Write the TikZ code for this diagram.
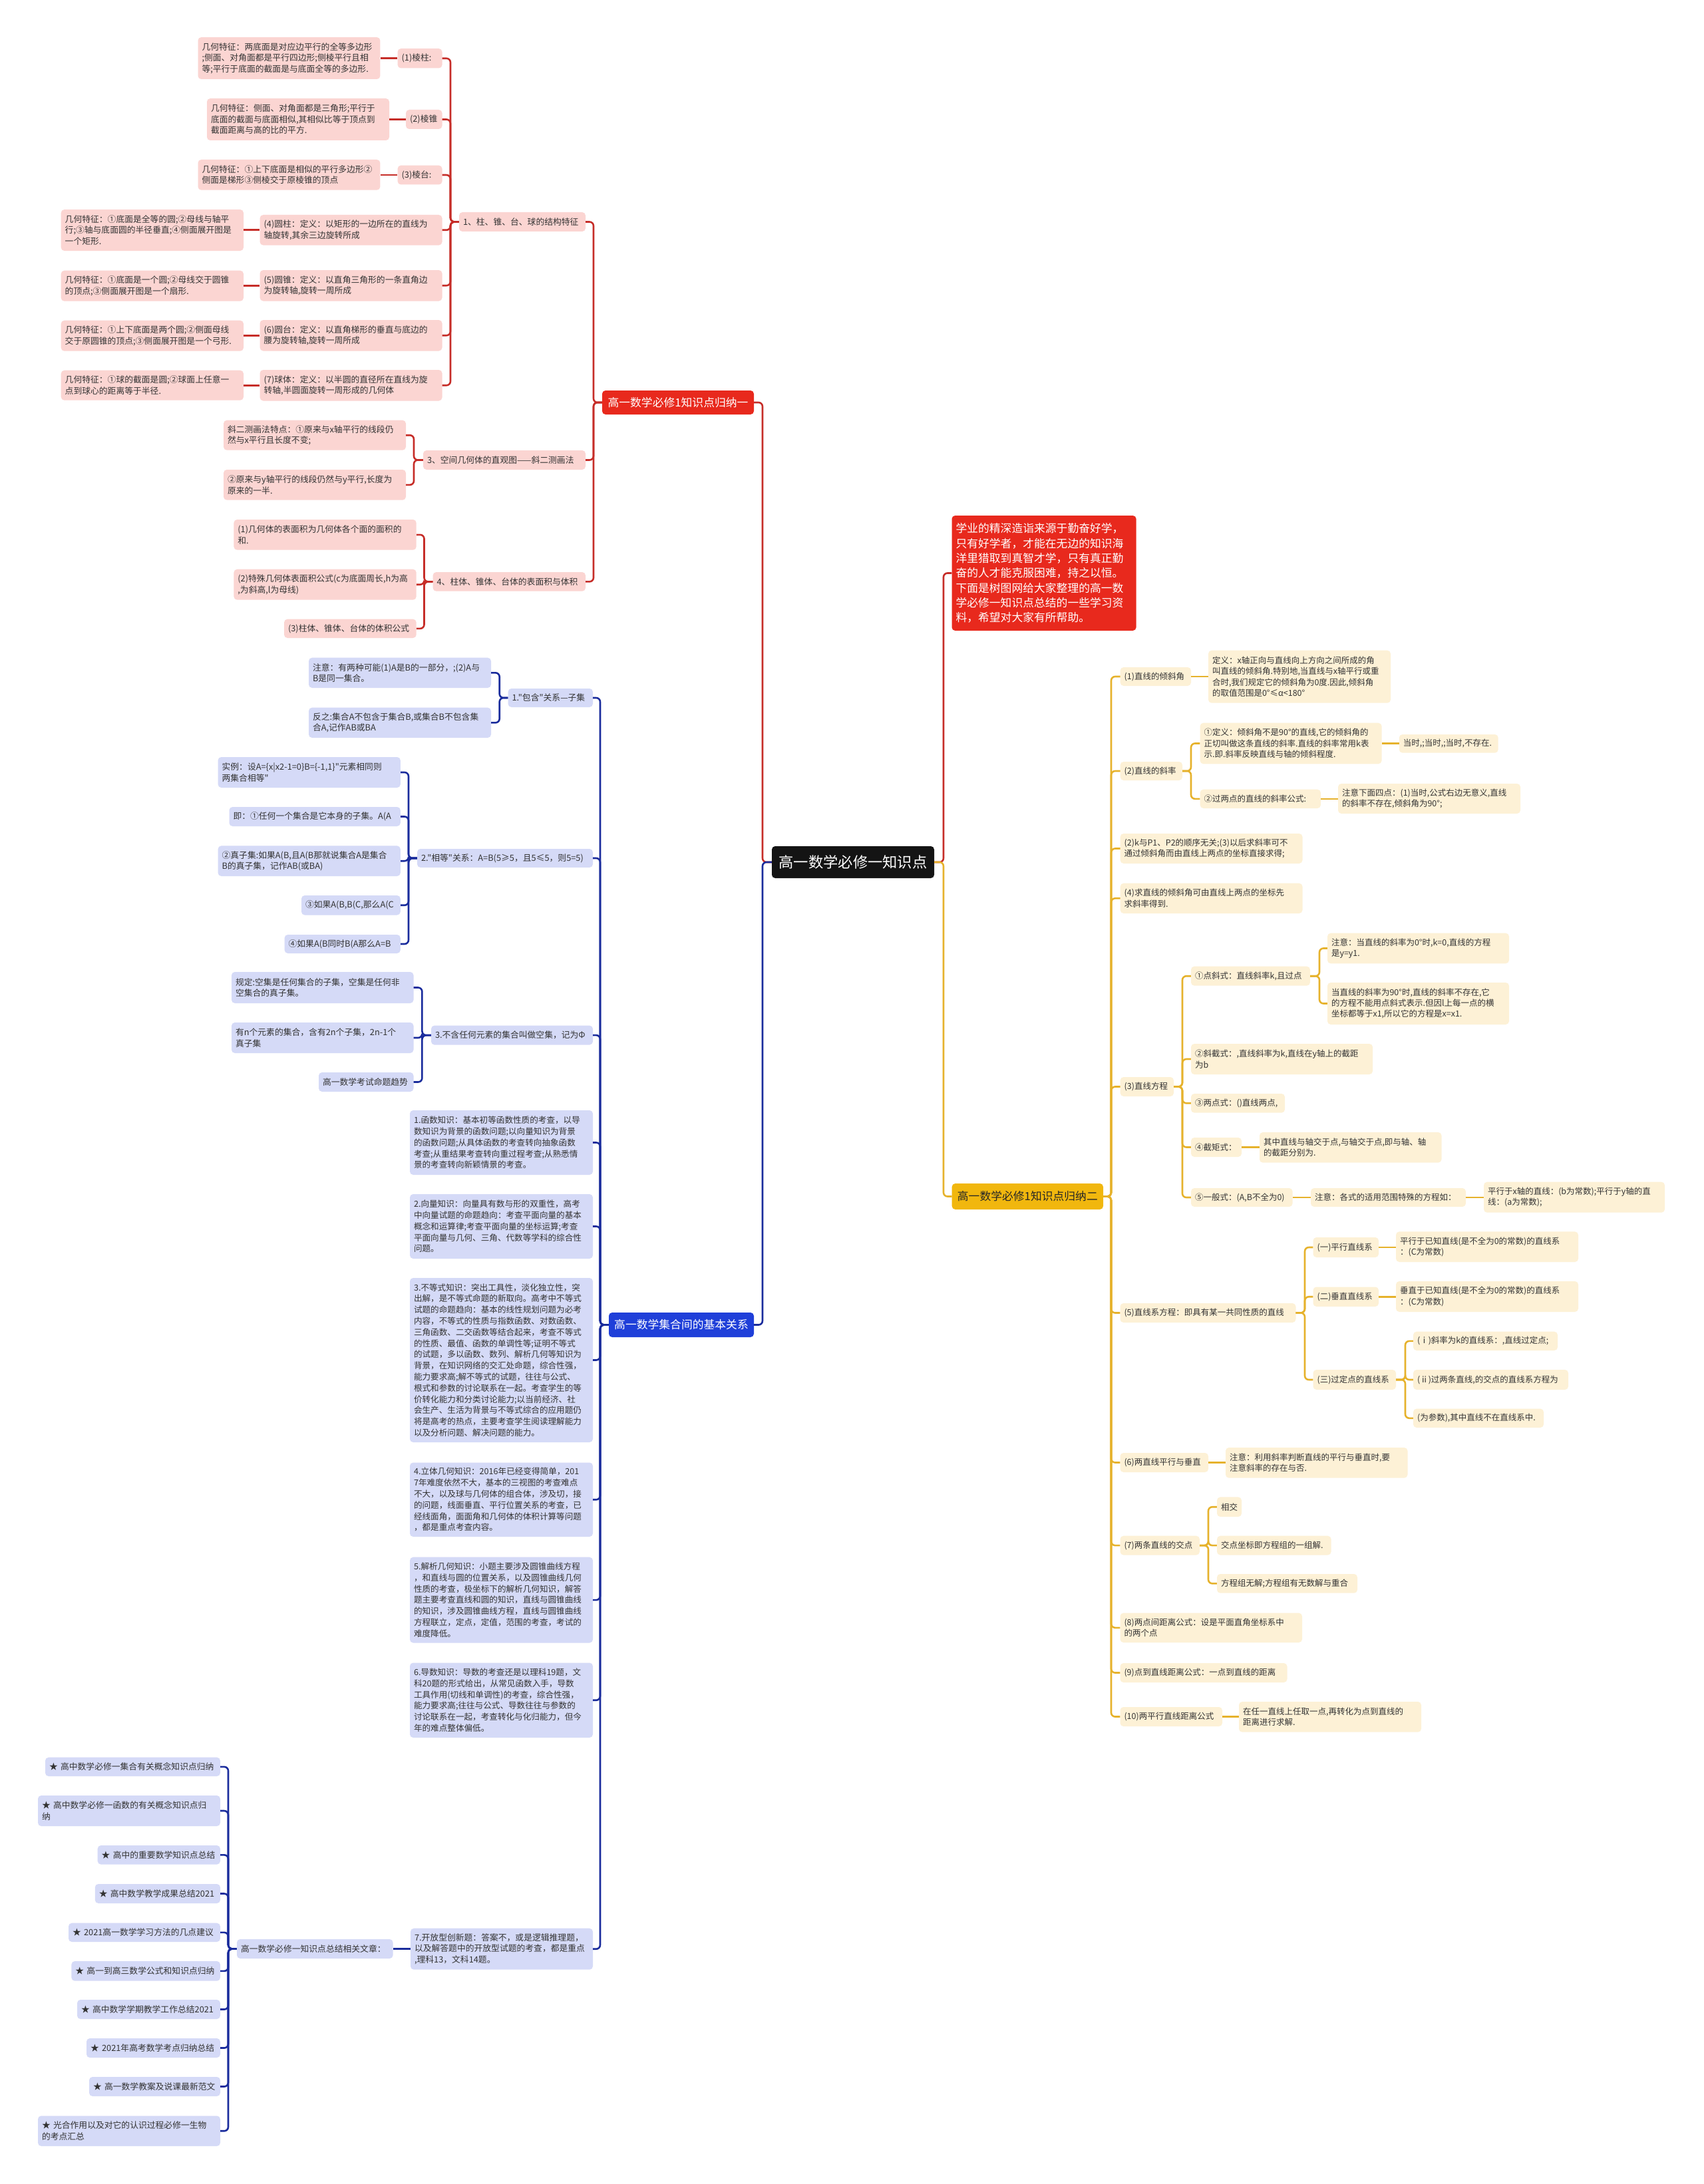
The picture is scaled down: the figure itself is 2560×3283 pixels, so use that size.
\documentclass[tikz,border=0pt]{standalone}
\usepackage{fontspec}
\newfontfamily\cjk{Noto Sans CJK SC}
\definecolor{rlc}{HTML}{C62D28}
\definecolor{rfill}{HTML}{FBD5D2}
\definecolor{rmainc}{HTML}{E8291D}
\definecolor{blc}{HTML}{1A2C9C}
\definecolor{bfill}{HTML}{D5DAF7}
\definecolor{bmainc}{HTML}{1F3FD9}
\definecolor{ylc}{HTML}{E6B22C}
\definecolor{yfill}{HTML}{FDF1D6}
\definecolor{ymainc}{HTML}{F1B70E}
\definecolor{txt}{HTML}{333333}
\newcommand\mbx[7]{%
 \pgfmathsetmacro\mbxw{(#5)-(#3)}%
 \pgfmathsetmacro\mbxh{(#6)-(#4)}%
 \pgfmathsetmacro\mbxt{(#5)-(#3)-12}%
 \pgfmathsetmacro\mbxx{((#3)+(#5))/2}%
 \pgfmathsetmacro\mbxy{((#4)+(#6))/2}%
 \node[#2, minimum width=\mbxw pt, minimum height=\mbxh pt, text width=\mbxt pt] (#1) at (\mbxx,\mbxy) {#7};}
\newcommand\lk[4]{\draw[#1] (#2.west) -- (#2.west -| #4) |- (#3.east);}
\newcommand\rk[4]{\draw[#1] (#2.east) -- (#2.east -| #4) |- (#3.west);}
\newcommand\sk[3]{\draw[#1] (#2.west) -- (#2.west -| #3.east);}
\newcommand\sr[3]{\draw[#1] (#2.east) -- (#2.east -| #3.west);}
\begin{document}
\begin{tikzpicture}[x=1pt,y=-1pt,
 base/.style={rounded corners=5pt, align=left, inner xsep=6pt, inner ysep=2pt, text=txt, font=\cjk\fontsize{12.8}{16.5}\selectfont},
 rleaf/.style={base, fill=rfill},
 bleaf/.style={base, fill=bfill},
 tleaf/.style={base, fill=bfill, font=\cjk\fontsize{12.6}{16.8}\selectfont},
 yleaf/.style={base, fill=yfill, font=\cjk\fontsize{12.5}{16.3}\selectfont},
 mainn/.style={base, align=center, font=\cjk\fontsize{16.8}{20}\selectfont},
 rl/.style={draw=rlc, line width=2.6pt, rounded corners=6pt},
 bl/.style={draw=blc, line width=2.6pt, rounded corners=6pt},
 yl/.style={draw=ylc, line width=2.6pt, rounded corners=6pt}]
\useasboundingbox (0,0) rectangle (2560,3283);
\fill[white] (0,0) rectangle (2560,3283);

% ---------- centre ----------
\mbx{ctr}{base, fill=black!92, text=white, align=center, font=\cjk\fontsize{22.3}{26}\selectfont}{1160}{1272}{1404}{1320}{高一数学必修一知识点}
\mbx{intro}{base, fill=rmainc, text=white, font=\cjk\fontsize{16.8}{22.3}\selectfont}{1430.5}{775}{1707.6}{948}{学业的精深造诣来源于勤奋好学，\\只有好学者，才能在无边的知识海\\洋里猎取到真智才学，只有真正勤\\奋的人才能克服困难，持之以恒。\\下面是树图网给大家整理的高一数\\学必修一知识点总结的一些学习资\\料，希望对大家有所帮助。}

% ---------- red branch ----------
\mbx{rmain}{mainn, fill=rmainc, text=white}{905}{587}{1133}{623}{高一数学必修1知识点归纳一}
\mbx{g1}{rleaf}{690}{319}{880}{348}{1、柱、锥、台、球的结构特征}
\mbx{g3}{rleaf}{636}{677}{880}{706}{3、空间几何体的直观图——斜二测画法}
\mbx{g4}{rleaf}{650.6}{860}{880}{888.7}{4、柱体、锥体、台体的表面积与体积}
\mbx{c1}{rleaf}{597.6}{73}{664.5}{102.5}{(1)棱柱:}
\mbx{l1}{rleaf}{297.5}{56}{571.4}{119}{几何特征：两底面是对应边平行的全等多边形\\;侧面、对角面都是平行四边形;侧棱平行且相\\等;平行于底面的截面是与底面全等的多边形.}
\mbx{c2}{rleaf}{610}{165}{664.5}{194}{(2)棱锥}
\mbx{l2}{rleaf}{311}{148}{585}{211}{几何特征：侧面、对角面都是三角形;平行于\\底面的截面与底面相似,其相似比等于顶点到\\截面距离与高的比的平方.}
\mbx{c3}{rleaf}{597.6}{248.6}{664.5}{277.5}{(3)棱台:}
\mbx{l3}{rleaf}{297.5}{240}{571.4}{285.7}{几何特征：①上下底面是相似的平行多边形②\\侧面是梯形③侧棱交于原棱锥的顶点}
\mbx{c4}{rleaf}{390.6}{323}{664.5}{368.6}{(4)圆柱：定义：以矩形的一边所在的直线为\\轴旋转,其余三边旋转所成}
\mbx{l4}{rleaf}{91.7}{315}{366}{377}{几何特征：①底面是全等的圆;②母线与轴平\\行;③轴与底面圆的半径垂直;④侧面展开图是\\一个矩形.}
\mbx{c5}{rleaf}{390.6}{406}{664.5}{452.5}{(5)圆锥：定义：以直角三角形的一条直角边\\为旋转轴,旋转一周所成}
\mbx{l5}{rleaf}{91.7}{406.7}{366}{452.7}{几何特征：①底面是一个圆;②母线交于圆锥\\的顶点;③侧面展开图是一个扇形.}
\mbx{c6}{rleaf}{390.6}{481}{664.5}{527.5}{(6)圆台：定义：以直角梯形的垂直与底边的\\腰为旋转轴,旋转一周所成}
\mbx{l6}{rleaf}{91.7}{481.7}{366}{527.7}{几何特征：①上下底面是两个圆;②侧面母线\\交于原圆锥的顶点;③侧面展开图是一个弓形.}
\mbx{c7}{rleaf}{390.6}{556}{664.5}{602.5}{(7)球体：定义：以半圆的直径所在直线为旋\\转轴,半圆面旋转一周形成的几何体}
\mbx{l7}{rleaf}{91.7}{556.7}{366}{601.7}{几何特征：①球的截面是圆;②球面上任意一\\点到球心的距离等于半径.}
\mbx{g3a}{rleaf}{336}{631.7}{610}{676.7}{斜二测画法特点：①原来与x轴平行的线段仍\\然与x平行且长度不变;}
\mbx{g3b}{rleaf}{336}{706}{610}{751.7}{②原来与y轴平行的线段仍然与y平行,长度为\\原来的一半.}
\mbx{g4a}{rleaf}{351.4}{781}{625.7}{826.7}{(1)几何体的表面积为几何体各个面的面积的\\和.}
\mbx{g4b}{rleaf}{351.4}{855.7}{625.7}{901.7}{(2)特殊几何体表面积公式(c为底面周长,h为高\\,为斜高,l为母线)}
\mbx{g4c}{rleaf}{427}{930.7}{625.7}{959}{(3)柱体、锥体、台体的体积公式}

% ---------- blue branch ----------
\mbx{bmain}{mainn, fill=bmainc, text=white}{915}{1973}{1133}{2010}{高一数学集合间的基本关系}
\mbx{b1}{bleaf}{763.6}{1035}{891}{1063}{1."包含"关系—子集}
\mbx{b1a}{bleaf}{464}{988.7}{738}{1034}{注意：有两种可能(1)A是B的一部分，;(2)A与\\B是同一集合。}
\mbx{b1b}{bleaf}{464}{1063.7}{738}{1109}{反之:集合A不包含于集合B,或集合B不包含集\\合A,记作AB或BA}
\mbx{b2}{bleaf}{627}{1276}{891}{1304}{2."相等"关系：A=B(5≥5，且5≤5，则5=5)}
\mbx{b2a}{bleaf}{327.6}{1138}{601.8}{1184}{实例：设A=\{x|x2-1=0\}B=\{-1,1\}"元素相同则\\两集合相等"}
\mbx{b2b}{bleaf}{344.5}{1213}{601.8}{1242}{即：①任何一个集合是它本身的子集。A(A}
\mbx{b2c}{bleaf}{327.6}{1271.4}{601.8}{1317}{②真子集:如果A(B,且A(B那就说集合A是集合\\B的真子集，记作AB(或BA)}
\mbx{b2d}{bleaf}{453}{1346}{601.8}{1375.5}{③如果A(B,B(C,那么A(C}
\mbx{b2e}{bleaf}{427.6}{1405}{601.8}{1433}{④如果A(B同时B(A那么A=B}
\mbx{b3}{bleaf}{648}{1541.6}{891}{1570.6}{3.不含任何元素的集合叫做空集，记为Φ}
\mbx{b3a}{bleaf}{348}{1461}{621.5}{1508}{规定:空集是任何集合的子集，空集是任何非\\空集合的真子集。}
\mbx{b3b}{bleaf}{348}{1537}{621.5}{1583}{有n个元素的集合，含有2n个子集，2n-1个\\真子集}
\mbx{b3c}{bleaf}{479}{1612}{621.5}{1641}{高一数学考试命题趋势}
\mbx{t1}{tleaf}{616}{1669}{891}{1766}{1.函数知识：基本初等函数性质的考查，以导\\数知识为背景的函数问题;以向量知识为背景\\的函数问题;从具体函数的考查转向抽象函数\\考查;从重结果考查转向重过程考查;从熟悉情\\景的考查转向新颖情景的考查。}
\mbx{t2}{tleaf}{616}{1795}{891}{1892}{2.向量知识：向量具有数与形的双重性，高考\\中向量试题的命题趋向：考查平面向量的基本\\概念和运算律;考查平面向量的坐标运算;考查\\平面向量与几何、三角、代数等学科的综合性\\问题。}
\mbx{t3}{tleaf}{616}{1921}{891}{2168}{3.不等式知识：突出工具性，淡化独立性，突\\出解，是不等式命题的新取向。高考中不等式\\试题的命题趋向：基本的线性规划问题为必考\\内容，不等式的性质与指数函数、对数函数、\\三角函数、二交函数等结合起来，考查不等式\\的性质、最值、函数的单调性等;证明不等式\\的试题，多以函数、数列、解析几何等知识为\\背景，在知识网络的交汇处命题，综合性强，\\能力要求高;解不等式的试题，往往与公式、\\根式和参数的讨论联系在一起。考查学生的等\\价转化能力和分类讨论能力;以当前经济、社\\会生产、生活为背景与不等式综合的应用题仍\\将是高考的热点，主要考查学生阅读理解能力\\以及分析问题、解决问题的能力。}
\mbx{t4}{tleaf}{616}{2198.5}{891}{2310}{4.立体几何知识：2016年已经变得简单，201\\7年难度依然不大，基本的三视图的考查难点\\不大，以及球与几何体的组合体，涉及切，接\\的问题，线面垂直、平行位置关系的考查，已\\经线面角，面面角和几何体的体积计算等问题\\，都是重点考查内容。}
\mbx{t5}{tleaf}{616}{2340.7}{891}{2469.5}{5.解析几何知识：小题主要涉及圆锥曲线方程\\，和直线与圆的位置关系，以及圆锥曲线几何\\性质的考查，极坐标下的解析几何知识，解答\\题主要考查直线和圆的知识，直线与圆锥曲线\\的知识，涉及圆锥曲线方程，直线与圆锥曲线\\方程联立，定点，定值，范围的考查，考试的\\难度降低。}
\mbx{t6}{tleaf}{616}{2499.5}{891}{2612}{6.导数知识：导数的考查还是以理科19题，文\\科20题的形式给出，从常见函数入手，导数\\工具作用(切线和单调性)的考查，综合性强，\\能力要求高;往往与公式、导数往往与参数的\\讨论联系在一起，考查转化与化归能力，但今\\年的难点整体偏低。}
\mbx{t7}{bleaf}{617}{2898.7}{891}{2960.7}{7.开放型创新题：答案不，或是逻辑推理题，\\以及解答题中的开放型试题的考查，都是重点\\,理科13，文科14题。}
\mbx{r7}{bleaf}{356}{2915}{590.6}{2944}{高一数学必修一知识点总结相关文章：}
\mbx{s1}{bleaf}{68}{2641.7}{331}{2670}{★ 高中数学必修一集合有关概念知识点归纳}
\mbx{s2}{bleaf}{57}{2699}{331}{2745}{★ 高中数学必修一函数的有关概念知识点归\\纳}
\mbx{s3}{bleaf}{146.7}{2774}{331}{2802.6}{★ 高中的重要数学知识点总结}
\mbx{s4}{bleaf}{142.8}{2832}{331}{2861}{★ 高中数学教学成果总结2021}
\mbx{s5}{bleaf}{103}{2890.7}{331}{2919}{★ 2021高一数学学习方法的几点建议}
\mbx{s6}{bleaf}{107.4}{2948}{331}{2977.7}{★ 高一到高三数学公式和知识点归纳}
\mbx{s7}{bleaf}{116}{3006}{331}{3035}{★ 高中数学学期教学工作总结2021}
\mbx{s8}{bleaf}{130}{3064}{331}{3093}{★ 2021年高考数学考点归纳总结}
\mbx{s9}{bleaf}{134}{3122}{331}{3151}{★ 高一数学教案及说课最新范文}
\mbx{s10}{bleaf}{57}{3180.5}{331}{3226}{★ 光合作用以及对它的认识过程必修一生物\\的考点汇总}

% ---------- yellow branch ----------
\mbx{ymain}{mainn, fill=ymainc, text=black!85}{1430.7}{1779}{1658}{1818}{高一数学必修1知识点归纳二}
\mbx{y1}{yleaf}{1683.7}{1003}{1790}{1031}{(1)直线的倾斜角}
\mbx{y1a}{yleaf}{1816}{977.7}{2090}{1056.7}{定义：x轴正向与直线向上方向之间所成的角\\叫直线的倾斜角.特别地,当直线与x轴平行或重\\合时,我们规定它的倾斜角为0度.因此,倾斜角\\的取值范围是0°≤α<180°}
\mbx{y2}{yleaf}{1683.7}{1145}{1777}{1173}{(2)直线的斜率}
\mbx{y2a}{yleaf}{1803.6}{1086.7}{2076.6}{1148.3}{①定义：倾斜角不是90°的直线,它的倾斜角的\\正切叫做这条直线的斜率.直线的斜率常用k表\\示.即.斜率反映直线与轴的倾斜程度.}
\mbx{y2a1}{yleaf}{2102.8}{1104}{2251.7}{1131.7}{当时,;当时,;当时,不存在.}
\mbx{y2b}{yleaf}{1803.6}{1186.7}{1985}{1215}{②过两点的直线的斜率公式:}
\mbx{y2b1}{yleaf}{2011}{1178}{2285}{1223}{注意下面四点：(1)当时,公式右边无意义,直线\\的斜率不存在,倾斜角为90°;}
\mbx{y3}{yleaf}{1683.7}{1253}{1957.5}{1298}{(2)k与P1、P2的顺序无关;(3)以后求斜率可不\\通过倾斜角而由直线上两点的坐标直接求得;}
\mbx{y4}{yleaf}{1683.7}{1327.7}{1957.5}{1373}{(4)求直线的倾斜角可由直线上两点的坐标先\\求斜率得到.}
\mbx{y5}{yleaf}{1683.7}{1619}{1764}{1648}{(3)直线方程}
\mbx{y5a}{yleaf}{1790}{1452.7}{1969}{1481.7}{①点斜式：直线斜率k,且过点}
\mbx{y5a1}{yleaf}{1995}{1402.7}{2268}{1448.3}{注意：当直线的斜率为0°时,k=0,直线的方程\\是y=y1.}
\mbx{y5a2}{yleaf}{1995}{1477}{2268}{1540}{当直线的斜率为90°时,直线的斜率不存在,它\\的方程不能用点斜式表示.但因l上每一点的横\\坐标都等于x1,所以它的方程是x=x1.}
\mbx{y5b}{yleaf}{1790}{1569}{2063}{1615}{②斜截式：,直线斜率为k,直线在y轴上的截距\\为b}
\mbx{y5c}{yleaf}{1790}{1644}{1931}{1672.7}{③两点式：()直线两点,}
\mbx{y5d}{yleaf}{1790}{1710}{1866}{1739}{④截矩式：}
\mbx{y5d1}{yleaf}{1893}{1702}{2166.5}{1747.7}{其中直线与轴交于点,与轴交于点,即与轴、轴\\的截距分别为.}
\mbx{y5e}{yleaf}{1790}{1786}{1942.6}{1814}{⑤一般式：(A,B不全为0)}
\mbx{y5e1}{yleaf}{1970}{1786}{2203}{1814}{注意：各式的适用范围特殊的方程如：}
\mbx{y5e2}{yleaf}{2230}{1776.7}{2502}{1822.7}{平行于x轴的直线：(b为常数);平行于y轴的直\\线：(a为常数);}
\mbx{y6}{yleaf}{1683.5}{1959}{1947.5}{1988}{(5)直线系方程：即具有某一共同性质的直线}
\mbx{y6a}{yleaf}{1973.5}{1860}{2072}{1890}{(一)平行直线系}
\mbx{y6a1}{yleaf}{2098}{1851.4}{2372}{1897}{平行于已知直线(是不全为0的常数)的直线系\\：(C为常数)}
\mbx{y6b}{yleaf}{1973.5}{1934.5}{2072}{1964}{(二)垂直直线系}
\mbx{y6b1}{yleaf}{2098}{1926}{2372}{1972}{垂直于已知直线(是不全为0的常数)的直线系\\：(C为常数)}
\mbx{y6c}{yleaf}{1973.5}{2059}{2098}{2089}{(三)过定点的直线系}
\mbx{y6c1}{yleaf}{2124}{2001.7}{2341}{2030}{(ⅰ)斜率为k的直线系：,直线过定点;}
\mbx{y6c2}{yleaf}{2124}{2059}{2357}{2089}{(ⅱ)过两条直线,的交点的直线系方程为}
\mbx{y6c3}{yleaf}{2124}{2117.6}{2320}{2146}{(为参数),其中直线不在直线系中.}
\mbx{y7}{yleaf}{1683.5}{2184}{1816}{2213}{(6)两直线平行与垂直}
\mbx{y7a}{yleaf}{1842}{2176}{2115.5}{2221.6}{注意：利用斜率判断直线的平行与垂直时,要\\注意斜率的存在与否.}
\mbx{y8}{yleaf}{1683.5}{2308.7}{1803}{2337.5}{(7)两条直线的交点}
\mbx{y8a}{yleaf}{1829}{2250.4}{1866}{2280}{相交}
\mbx{y8b}{yleaf}{1829}{2308.7}{2000.6}{2337.5}{交点坐标即方程组的一组解.}
\mbx{y8c}{yleaf}{1829}{2366}{2040}{2394.7}{方程组无解;方程组有无数解与重合}
\mbx{y9}{yleaf}{1683.5}{2424.6}{1957}{2469}{(8)两点间距离公式：设是平面直角坐标系中\\的两个点}
\mbx{y10}{yleaf}{1683.5}{2500}{1934.5}{2529}{(9)点到直线距离公式：一点到直线的距离}
\mbx{y11}{yleaf}{1683.5}{2566}{1837}{2595}{(10)两平行直线距离公式}
\mbx{y11a}{yleaf}{1862}{2558}{2136}{2603.7}{在任一直线上任取一点,再转化为点到直线的\\距离进行求解.}

% ---------- trunk coordinates ----------
\coordinate (TCL) at (1146,0); \coordinate (TCR) at (1418,0);
\coordinate (TR) at (892,0); \coordinate (TG1) at (677,0);
\coordinate (TG3) at (622,0); \coordinate (TG4) at (637.5,0);
\coordinate (TB) at (902,0); \coordinate (TB1) at (750.7,0);
\coordinate (TB2) at (614,0); \coordinate (TB3) at (634.4,0);
\coordinate (TB7) at (343,0);
\coordinate (TY) at (1670,0); \coordinate (TY2) at (1790,0);
\coordinate (TY5) at (1777,0); \coordinate (TY5a) at (1983,0);
\coordinate (TY6) at (1961,0); \coordinate (TY6c) at (2112,0);
\coordinate (TY8) at (1816,0);

% ---------- connectors ----------
\lk{rl}{ctr}{rmain}{TCL}
\lk{bl}{ctr}{bmain}{TCL}
\rk{rl}{ctr}{intro}{TCR}
\rk{yl}{ctr}{ymain}{TCR}

\foreach \c in {g1,g3,g4}{\lk{rl}{rmain}{\c}{TR}}
\foreach \c in {c1,c2,c3,c4,c5,c6,c7}{\lk{rl}{g1}{\c}{TG1}}
\foreach \a/\b in {c1/l1,c2/l2,c3/l3,c4/l4,c5/l5,c6/l6,c7/l7}{\sk{rl}{\a}{\b}}
\foreach \c in {g3a,g3b}{\lk{rl}{g3}{\c}{TG3}}
\foreach \c in {g4a,g4b,g4c}{\lk{rl}{g4}{\c}{TG4}}

\foreach \c in {b1,b2,b3,t1,t2,t3,t4,t5,t6,t7}{\lk{bl}{bmain}{\c}{TB}}
\foreach \c in {b1a,b1b}{\lk{bl}{b1}{\c}{TB1}}
\foreach \c in {b2a,b2b,b2c,b2d,b2e}{\lk{bl}{b2}{\c}{TB2}}
\foreach \c in {b3a,b3b,b3c}{\lk{bl}{b3}{\c}{TB3}}
\sk{bl}{t7}{r7}
\foreach \c in {s1,s2,s3,s4,s5,s6,s7,s8,s9,s10}{\lk{bl}{r7}{\c}{TB7}}

\foreach \c in {y1,y2,y3,y4,y5,y6,y7,y8,y9,y10,y11}{\rk{yl}{ymain}{\c}{TY}}
\sr{yl}{y1}{y1a}
\foreach \c in {y2a,y2b}{\rk{yl}{y2}{\c}{TY2}}
\sr{yl}{y2a}{y2a1}
\sr{yl}{y2b}{y2b1}
\foreach \c in {y5a,y5b,y5c,y5d,y5e}{\rk{yl}{y5}{\c}{TY5}}
\foreach \c in {y5a1,y5a2}{\rk{yl}{y5a}{\c}{TY5a}}
\sr{yl}{y5d}{y5d1}
\sr{yl}{y5e}{y5e1}
\sr{yl}{y5e1}{y5e2}
\foreach \c in {y6a,y6b,y6c}{\rk{yl}{y6}{\c}{TY6}}
\sr{yl}{y6a}{y6a1}
\sr{yl}{y6b}{y6b1}
\foreach \c in {y6c1,y6c2,y6c3}{\rk{yl}{y6c}{\c}{TY6c}}
\sr{yl}{y7}{y7a}
\foreach \c in {y8a,y8b,y8c}{\rk{yl}{y8}{\c}{TY8}}
\sr{yl}{y11}{y11a}
\end{tikzpicture}
\end{document}
